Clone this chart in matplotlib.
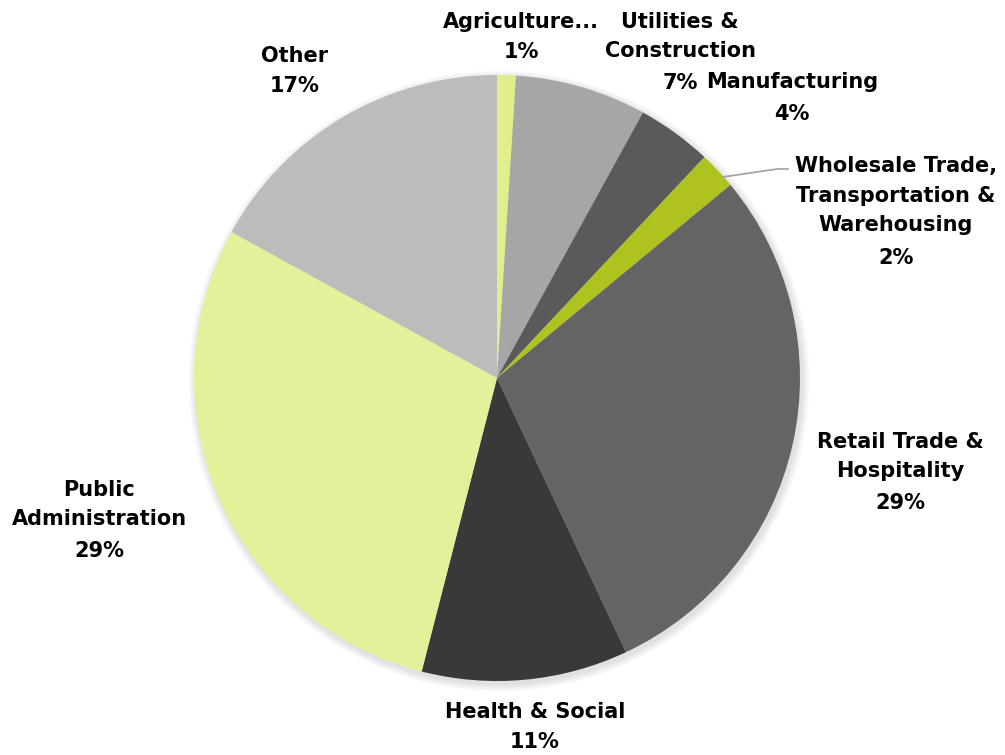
import matplotlib.pyplot as plt
from matplotlib.patches import Circle

sectors = ['Agriculture...', 'Utilities &\nConstruction', 'Manufacturing',
           'Wholesale Trade,\nTransportation &\nWarehousing', 'Retail Trade &\nHospitality',
           'Health & Social', 'Public\nAdministration', 'Other']
shares = [1, 7, 4, 2, 29, 11, 29, 17]
colors = ['#e2ed8c', '#a6a6a6', '#5a5a5a', '#afc21e', '#646464', '#393939', '#e4f09a', '#bcbcbc']

# label centres in pixel space (x, y from top)
label_pos = [(521, 37), (680, 52), (792, 98), (896, 211), (900, 472), (535, 727), (99, 520), (295, 71)]
LINE = 31  # pixels between label lines

W, H = 1005, 755
cx, cy, r = 497, H - 378, 303

fig = plt.figure(figsize=(10.05, 7.55), dpi=100)
ax = fig.add_axes([0, 0, 1, 1])

# soft shadow under the pie
for i in range(6):
    ax.add_patch(Circle((cx + 2, cy - 3), r + 1 + i * 1.3, color='black',
                        alpha=0.018, lw=0, zorder=0))

ax.pie(shares, colors=colors, startangle=90, counterclock=False,
       center=(cx, cy), radius=r, frame=True,
       wedgeprops=dict(linewidth=0, zorder=1))
ax.set_xlim(0, W)
ax.set_ylim(0, H)
ax.axis('off')

style = dict(ha='center', va='center', fontsize=15, fontweight='bold',
             family='DejaVu Sans', linespacing=1.62, color='black')
for name, val, (x, y) in zip(sectors, shares, label_pos):
    n_name = name.count('\n') + 1
    top = y - n_name * LINE / 2          # centre of first line
    name_y = top + (n_name - 1) * LINE / 2
    pct_y = top + n_name * LINE
    ax.text(x, H - name_y, name, **style)
    ax.text(x, H - pct_y, f'{val}%', **style)

# leader line for the thin wholesale slice
ax.plot([723, 777, 788], [H - 177, H - 169, H - 169], color='#a0a0a0', lw=1.2)

fig.savefig('out.png', dpi=100)
